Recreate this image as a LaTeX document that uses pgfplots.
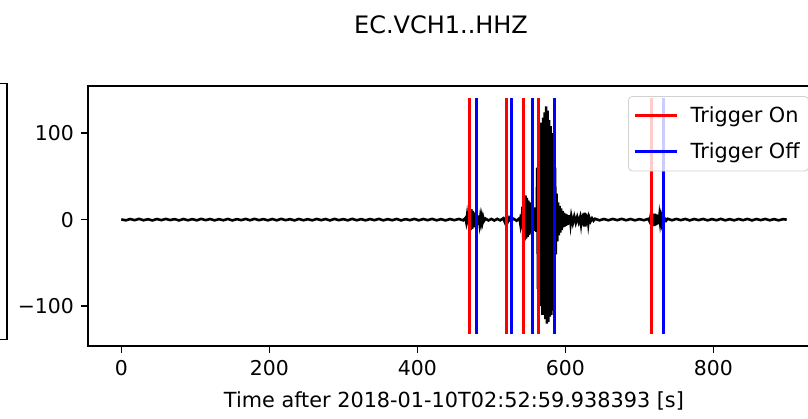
\documentclass[border=0pt]{standalone}
\usepackage{fontspec}
\setmainfont{DejaVu Sans}
\usepackage{pgfplots}
\pgfplotsset{compat=1.18}
\begin{document}
\begin{tikzpicture}
\useasboundingbox (0pt,0pt) rectangle (404pt,-209pt);
\clip (0pt,0pt) rectangle (404pt,-209pt);
% right edge of the neighbouring panel, cut off by the crop
\draw[line width=0.8pt] (0pt,-41.65pt) -- (3.35pt,-41.65pt) -- (3.35pt,-169.65pt) -- (0pt,-169.65pt);
\node[anchor=base, font=\fontsize{12pt}{14pt}\selectfont] at (220.5pt,-16.5pt) {EC.VCH1..HHZ};
\begin{axis}[
  at={(44pt,-173pt)}, anchor=south west,
  scale only axis, width=366pt, height=130pt,
  xmin=-45, xmax=944, ymin=-146, ymax=154.4,
  xtick={0,200,400,600,800},
  ytick={-100,0,100}, yticklabels={−100,0,100},
  tick align=outside, tick pos=left,
  major tick length=3.5pt,
  every tick/.style={black, line width=0.8pt},
  axis line style={line width=0.8pt},
  tick label style={font=\fontsize{10.2pt}{12pt}\selectfont},
  /pgf/number format/assume math mode=true,
  xlabel={Time after 2018-01-10T02:52:59.938393 [s]},
  label style={font=\fontsize{10.4pt}{12pt}\selectfont},
  xlabel style={yshift=-1pt},
  unbounded coords=jump,
  legend cell align=left,
  legend image code/.code={\draw[#1] (0pt,0pt) -- (21pt,0pt);},
  legend style={at={(rel axis cs:0.7377,0.9615)}, anchor=north west,
    draw=black!18, rounded corners=2pt, fill=white, fill opacity=0.8,
    text opacity=1, font=\fontsize{10.4pt}{12pt}\selectfont,
    inner xsep=2.5pt, inner ysep=3pt, row sep=4.5pt, column sep=4pt},
]
% seismogram trace
\addplot[black, line width=1.3pt, forget plot] coordinates {
(0,0.3)(6,-0.8)(12,0.7)(18,-0.6)(24,0.9)(30,-0.7)(36,0.5)(42,-0.9)(48,0.7)(54,-0.6)
(60,0.8)(66,-0.5)(72,0.6)(78,-0.9)(84,0.7)(90,-0.7)(96,0.6)(102,-0.8)(108,0.9)(114,-0.6)
(120,0.7)(126,-0.8)(132,0.5)(138,-0.7)(144,0.8)(150,-0.9)(156,0.6)(162,-0.6)(168,0.8)(174,-0.7)
(180,0.9)(186,-0.6)(192,0.6)(198,-0.8)(204,0.7)(210,-0.8)(216,0.9)(222,-0.6)(228,0.6)(234,-0.9)
(240,0.8)(246,-0.7)(252,0.5)(258,-0.8)(264,0.8)(270,-0.6)(276,0.7)(282,-0.9)(288,0.8)(294,-0.6)
(300,0.6)(306,-0.8)(312,0.9)(318,-0.7)(324,0.6)(330,-0.8)(336,0.7)(342,-0.6)(348,0.9)(354,-0.8)
(360,0.6)(366,-0.7)(372,0.8)(378,-0.9)(384,0.6)(390,-0.6)(396,0.8)(402,-0.8)(408,0.7)(414,-0.6)
(420,0.9)(426,-0.8)(432,0.6)(438,-0.9)(444,0.7)(450,-0.6)(456,0.8)(462,-0.8)
(465,2)(466,-2.5)(467,4)(468,-5)(469,7)(470,-9)(471,11)(472,-12)(473,12)(474,-11)
(475,10)(476,-9)(477,8)(478,-7)(479,7)(480,-6)(481,5)(482,-6)(483,4)(484,-4)
(485,3)(486,-3)(487,3)(488,-2.5)(489,2)(490,-1.5)(492,1.2)
(496,-0.9)(500,0.8)(504,-1)(508,0.9)(512,-0.8)(516,1.5)(518,-2.5)(520,3)(522,-2.5)(524,2)
(526,-1.2)(530,1)(534,-1.2)(538,1.5)
(539,-4)(540,6)(541,-10)(542,15)(543,-20)(544,25)(545,-24)(546,28)(547,-22)(548,25)
(549,-20)(550,22)(551,-18)(552,20)(553,-16)(554,18)(555,-15)(556,14)(557,-12)(558,14)
(559,-13)(560,12)(561,-14)
(562,60)(563,-80)(564,105)(565,-95)(566,112)(567,-100)(568,108)(569,-110)(570,118)(571,-105)
(572,124)(573,-115)(574,131)(575,-120)(576,126)(577,-118)(578,115)(579,-112)(580,108)(581,-110)
(582,100)(583,-105)(584,95)(585,-100)(586,60)(587,-40)(588,30)(589,-25)
(590,20)(591,-18)(592,16)(593,-15)(594,13)(595,-12)(596,10)(597,-9)(598,8)(599,-8)
(600,7)(601,-7)(602,6)(603,-6)(604,5)(605,-5)(606,5)(607,-4)(608,4)(610,-4)
(612,3.5)(614,-3.5)(616,3)(618,-3)(620,3)(621,-4)(622,5)(623,-6)(624,7)(625,-8)
(626,8)(627,-8)(628,7)(629,-6)(630,5)(631,-4)(632,3)(634,-2)(636,1.5)(638,-1.2)(640,1)
(646,-0.8)(652,0.7)(658,-0.7)(664,0.8)(670,-0.6)(676,0.9)(682,-0.7)(688,0.7)(694,-0.8)(700,0.6)
(706,-0.7)(712,0.9)
(714,-2.5)(715,3)(716,-4)(717,5)(718,-6)(719,7)(720,-7.5)(721,7)(722,-6.5)(723,6)
(724,-5.5)(725,5)(726,-4.5)(727,4)(728,-3.5)(729,3)(730,-3)(731,2.5)(732,-2)(734,1.5)
(736,-1.2)(738,1)
(744,-0.7)(750,0.8)(756,-0.6)(762,0.8)(768,-0.9)(774,0.7)(780,-0.6)(786,0.8)(792,-0.8)(798,0.6)
(804,-0.7)(810,0.9)(816,-0.8)(822,0.6)(828,-0.8)(834,0.7)(840,-0.6)(846,0.8)(852,-0.9)(858,0.7)
(864,-0.6)(870,0.8)(876,-0.7)(882,0.6)(888,-0.8)(894,0.5)(899,0)
};
% trigger on times
\addplot[red, line width=1.6pt] coordinates {
(470.3,-132.4)(470.3,140.7)(470.3,nan)
(520.1,-132.4)(520.1,140.7)(520.1,nan)
(543.0,-132.4)(543.0,140.7)(543.0,nan)
(564.0,-132.4)(564.0,140.7)(564.0,nan)
(716.5,-132.4)(716.5,140.7)
};
\addlegendentry{Trigger On}
% trigger off times
\addplot[blue, line width=1.6pt] coordinates {
(480.0,-132.4)(480.0,140.7)(480.0,nan)
(527.5,-132.4)(527.5,140.7)(527.5,nan)
(555.1,-132.4)(555.1,140.7)(555.1,nan)
(585.5,-132.4)(585.5,140.7)(585.5,nan)
(732.7,-132.4)(732.7,140.7)
};
\addlegendentry{Trigger Off}
\end{axis}
\end{tikzpicture}
\end{document}
